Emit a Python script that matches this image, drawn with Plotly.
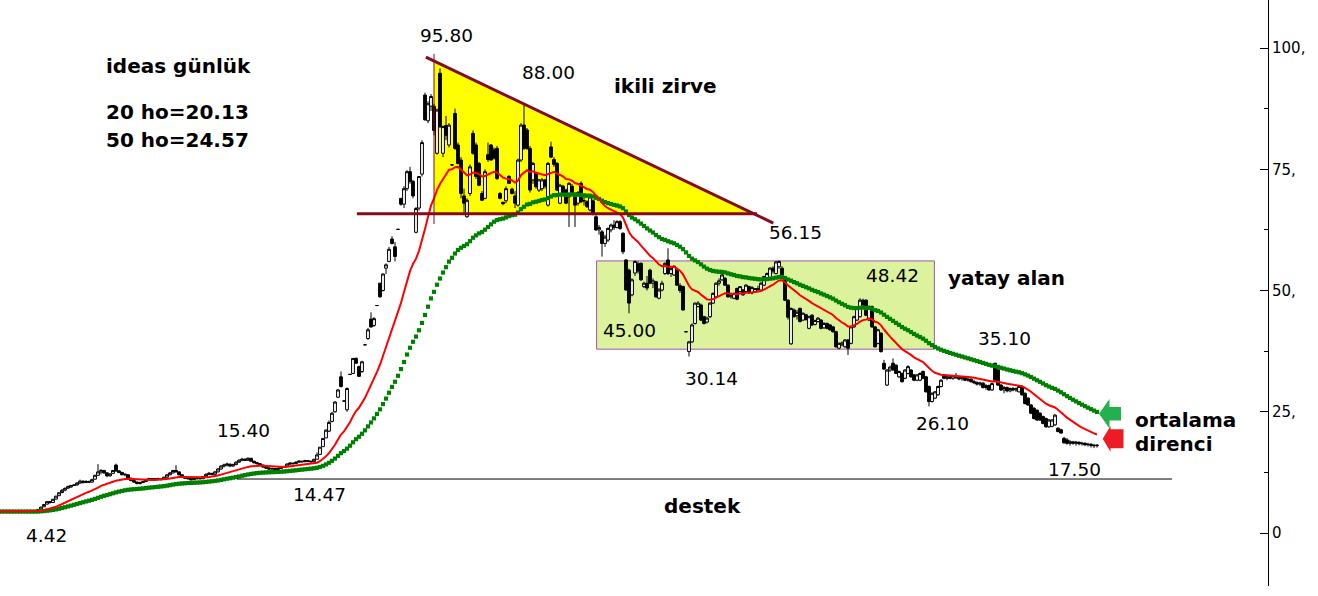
import plotly.graph_objects as go

# ---------------- data ----------------
ipo_price = 4.42
pre_bars = 13          # flat pre-listing part of the averages on the left

opens = [
 4.42, 4.90, 5.40, 5.95, 6.50, 6.30, 7.00, 7.70, 8.35, 8.85,
 9.25, 9.5, 9.8, 9.9, 10.3, 10.7, 10.4, 10.6, 10.5, 11.1,
 11.9, 12.6, 12.9, 12.4, 11.8, 12.3, 14.0, 12.8, 12.5, 12.0,
 12.0, 11.3, 10.8, 10.5, 10.2, 10.4, 10.6, 11.0, 11.2, 10.9,
 11.2, 11.0, 11.1, 11.5, 12.0, 12.4, 12.9, 12.6, 12.0, 11.6,
 11.3, 11.2, 11.0, 11.2, 11.3, 11.2, 11.6, 12.1, 12.3, 12.1,
 12.6, 13.2, 13.8, 14.0, 14.2, 13.8, 14.1, 14.6, 15.0, 15.2,
 15.0, 15.4, 14.8, 14.5, 14.3, 14.0, 13.6, 13.4, 13.2, 13.3,
 13.1, 13.3, 13.5, 13.7, 14.2, 14.4, 14.3, 14.6, 14.8, 14.7,
 14.9, 14.8, 14.7, 15.2, 16.2, 17.8, 19.6, 21.0, 23.0, 25.0,
 28.0, 32.2, 27.2, 25.4, 32.7, 32.9, 36.0, 34.3, 33.3, 38.8,
 40.1, 44.1, 42.8, 46.9, 51.5, 50.0, 54.6, 56.0, 60.6, 59.0,
 62.6, 69.0, 67.8, 71.0, 74.5, 72.5, 62.0, 67.0, 74.0, 90.3,
 85.0, 88.0, 88.0, 78.3, 94.8, 78.3, 84.0, 80.0, 75.9, 86.5,
 80.0, 76.9, 69.5, 65.2, 70.0, 82.4, 80.0, 76.2, 70.0, 69.0,
 78.0, 80.0, 79.0, 79.3, 70.0, 68.2, 68.5, 73.5, 70.9, 69.5,
 67.6, 76.9, 84.1, 83.1, 79.3, 72.8, 74.1, 70.7, 71.0, 72.8,
 67.6, 79.6, 77.0, 76.2, 68.0, 71.5, 70.7, 69.3, 71.5, 70.0,
 68.0, 72.1, 68.5, 68.3, 66.6, 68.5, 65.2, 62.5, 62.1, 59.7,
 60.4, 62.5, 63.5, 63.0, 64.2, 61.8, 56.3, 54.2, 49.1, 53.6,
 55.5, 55.6, 50.8, 51.5, 54.2, 51.5, 51.8, 48.4, 50.1, 53.5,
 56.3, 53.5, 53.2, 54.2, 51.0, 50.8, 41.5, 37.4, 39.4, 43.2,
 46.7, 47.0, 44.6, 43.5, 44.6, 47.4, 48.7, 51.5, 52.2, 52.5,
 51.1, 48.7, 48.4, 50.4, 49.8, 50.1, 49.8, 50.8, 49.5, 49.8,
 50.4, 50.1, 51.1, 52.2, 52.5, 54.6, 53.5, 54.9, 54.6, 52.5,
 48.0, 39.0, 46.0, 44.8, 46.3, 43.9, 45.0, 42.2, 44.9, 43.0,
 43.6, 43.9, 42.3, 43.2, 42.9, 42.5, 41.5, 38.1, 38.8, 38.4,
 39.8, 39.1, 42.5, 43.9, 44.6, 48.0, 48.0, 43.9, 46.7, 42.5,
 39.1, 41.2, 35.0, 30.5, 33.6, 35.0, 34.6, 32.2, 32.9, 31.9,
 32.9, 33.6, 32.6, 31.5, 31.5, 33.3, 32.2, 30.2, 27.1, 27.8,
 28.5, 30.2, 32.6, 31.9, 32.2, 31.9, 32.4, 32.0, 31.8, 32.1,
 31.5, 31.7, 31.2, 31.0, 30.7, 30.9, 30.0, 30.4, 29.5, 35.0,
 33.6, 30.5, 29.5, 30.0, 29.3, 29.8, 29.5, 29.1, 30.2, 28.8,
 27.8, 26.4, 25.7, 25.3, 24.7, 24.0, 23.6, 21.9, 22.0, 22.3,
 21.6, 21.3, 19.5, 19.2, 18.5, 18.8, 18.5, 18.7, 18.4, 18.5,
 18.2, 18.3, 18.1, 18.0]

highs = [
 4.86, 5.35, 5.88, 6.47, 6.60, 7.05, 7.65, 8.35, 9.10, 9.40,
 9.80, 9.9, 10.0, 10.5, 11.0, 10.8, 10.9, 10.8, 11.2, 12.0,
 14.2, 13.2, 13.0, 12.5, 12.3, 13.0, 14.3, 13.0, 12.6, 12.3,
 12.1, 11.4, 11.0, 10.6, 10.6, 10.8, 11.2, 11.4, 11.3, 11.3,
 11.4, 11.2, 11.6, 12.2, 12.6, 13.0, 14.0, 12.7, 12.1, 11.7,
 11.5, 11.3, 11.3, 11.5, 11.4, 11.7, 12.3, 12.6, 12.4, 12.8,
 13.4, 14.0, 14.3, 14.5, 14.3, 14.3, 14.8, 15.2, 15.5, 15.4,
 15.6, 15.5, 14.9, 14.7, 14.4, 14.1, 13.8, 13.6, 13.5, 13.4,
 13.5, 13.7, 13.9, 14.4, 14.6, 14.5, 14.8, 15.0, 14.9, 15.1,
 15.0, 14.9, 15.3, 16.6, 17.7, 19.5, 21.4, 23.2, 25.0, 27.2,
 29.7, 33.3, 27.3, 30.0, 32.8, 36.0, 36.2, 34.5, 35.5, 38.9,
 42.3, 45.5, 44.5, 47.0, 51.6, 53.5, 55.6, 59.0, 61.2, 60.0,
 62.7, 69.0, 71.5, 74.8, 75.5, 72.8, 67.2, 73.6, 81.0, 90.8,
 89.0, 90.5, 88.5, 87.5, 95.8, 84.0, 86.0, 84.5, 76.0, 87.5,
 80.5, 77.5, 71.0, 69.0, 76.0, 83.0, 80.5, 76.5, 70.5, 75.0,
 80.5, 80.2, 79.5, 79.8, 70.3, 68.2, 71.5, 73.8, 71.2, 70.5,
 77.2, 84.5, 88.2, 83.5, 79.8, 76.5, 74.5, 73.0, 73.2, 73.0,
 76.5, 80.7, 77.5, 76.5, 72.0, 71.8, 71.0, 72.3, 72.0, 70.3,
 70.5, 72.5, 69.5, 68.6, 69.5, 68.8, 65.5, 63.5, 62.5, 61.5,
 63.0, 63.8, 64.5, 64.5, 64.5, 62.0, 56.5, 54.5, 52.5, 56.2,
 56.0, 55.8, 51.8, 53.0, 54.5, 52.5, 52.0, 50.5, 52.0, 55.8,
 58.7, 55.0, 55.2, 54.5, 51.5, 51.0, 41.6, 39.6, 43.2, 47.5,
 47.8, 47.3, 44.8, 44.6, 47.6, 49.6, 51.7, 52.5, 53.5, 52.8,
 51.3, 49.5, 49.6, 50.6, 50.9, 50.3, 51.3, 51.0, 50.9, 50.5,
 51.0, 51.7, 53.0, 53.7, 54.8, 55.0, 56.0, 56.2, 55.0, 52.8,
 48.2, 46.5, 46.3, 46.0, 46.5, 45.5, 45.2, 44.8, 45.1, 44.0,
 44.5, 44.1, 43.5, 43.4, 43.1, 42.7, 41.7, 39.3, 39.5, 40.0,
 40.0, 42.7, 44.8, 46.5, 48.4, 48.3, 48.2, 46.9, 46.9, 42.7,
 42.1, 41.4, 35.7, 33.8, 34.5, 36.0, 34.8, 33.5, 33.1, 33.8,
 34.6, 33.8, 32.8, 32.8, 33.1, 33.5, 32.4, 30.4, 29.0, 29.3,
 30.4, 31.7, 32.8, 32.4, 32.6, 32.5, 33.0, 32.4, 32.3, 32.3,
 32.0, 31.9, 31.6, 31.3, 31.2, 31.1, 30.7, 30.6, 31.0, 35.1,
 33.8, 30.7, 30.3, 30.2, 30.0, 30.1, 30.0, 30.4, 30.4, 29.0,
 28.0, 26.6, 26.0, 25.5, 24.9, 24.2, 23.8, 23.5, 23.5, 24.5,
 21.8, 21.5, 19.8, 19.6, 19.2, 19.0, 19.0, 18.9, 18.8, 18.7,
 18.6, 18.5, 18.4, 18.3]

lows = [
 4.42, 4.90, 5.40, 5.90, 6.10, 6.25, 6.90, 7.60, 8.20, 8.60,
 9.10, 9.3, 9.7, 9.8, 10.1, 10.2, 10.3, 10.3, 10.4, 11.0,
 11.8, 12.1, 12.2, 11.5, 11.6, 12.2, 12.6, 12.3, 11.9, 11.7,
 11.2, 10.7, 10.3, 10.0, 10.0, 10.3, 10.5, 10.8, 10.8, 10.8,
 10.9, 10.8, 11.0, 11.4, 11.9, 12.3, 12.5, 11.9, 11.4, 11.1,
 11.0, 10.8, 10.9, 11.0, 11.0, 11.1, 11.5, 11.9, 11.9, 12.0,
 12.5, 13.0, 13.5, 13.7, 13.6, 13.7, 14.0, 14.5, 14.8, 14.9,
 14.9, 14.7, 14.3, 14.1, 13.8, 13.4, 13.2, 13.0, 13.0, 12.9,
 13.0, 13.2, 13.4, 13.6, 14.0, 14.1, 14.2, 14.5, 14.5, 14.6,
 14.6, 14.5, 14.6, 15.2, 16.2, 17.8, 19.6, 20.8, 22.8, 24.8,
 27.8, 30.0, 27.2, 25.0, 32.7, 32.8, 35.0, 32.2, 33.0, 38.8,
 39.8, 42.3, 42.5, 46.9, 48.5, 49.8, 53.4, 55.8, 59.5, 56.0,
 62.6, 67.5, 67.0, 70.5, 72.0, 69.0, 61.8, 66.5, 73.5, 85.0,
 84.5, 87.0, 82.0, 78.0, 83.5, 77.5, 81.0, 79.5, 75.8, 79.0,
 76.0, 69.0, 66.0, 65.0, 69.5, 78.0, 73.0, 71.5, 68.5, 68.8,
 76.5, 76.8, 77.0, 72.8, 68.8, 67.6, 68.0, 72.0, 69.8, 67.0,
 67.3, 76.5, 79.0, 79.0, 70.2, 72.0, 71.0, 70.3, 70.5, 71.0,
 67.3, 77.3, 75.5, 70.5, 67.8, 69.5, 67.8, 63.1, 69.5, 63.1,
 67.5, 68.0, 67.5, 67.0, 66.3, 65.5, 62.3, 61.5, 57.0, 59.0,
 60.0, 62.0, 62.5, 62.8, 62.5, 57.5, 50.0, 45.3, 48.8, 53.0,
 53.5, 52.0, 50.5, 50.0, 51.3, 50.5, 48.5, 48.2, 49.8, 53.2,
 53.2, 52.8, 53.0, 51.0, 49.5, 45.8, 41.4, 36.4, 39.2, 43.0,
 46.5, 43.7, 43.0, 43.2, 44.3, 47.2, 48.5, 51.0, 52.0, 51.0,
 48.5, 48.3, 48.2, 48.0, 49.6, 48.9, 49.6, 49.3, 49.2, 49.6,
 49.8, 50.0, 50.9, 52.0, 52.3, 53.5, 53.3, 54.5, 52.3, 47.8,
 44.0, 38.8, 44.4, 44.0, 43.4, 43.7, 43.8, 42.0, 42.7, 42.8,
 43.4, 42.0, 42.1, 42.0, 41.7, 41.3, 38.2, 37.9, 38.5, 38.2,
 36.7, 38.9, 42.3, 43.7, 44.4, 46.5, 44.7, 43.7, 42.3, 38.2,
 38.9, 37.2, 33.6, 30.3, 33.2, 33.5, 32.8, 32.0, 31.0, 31.7,
 32.7, 32.0, 31.3, 31.3, 31.3, 31.7, 29.0, 26.1, 26.9, 27.6,
 28.3, 30.0, 31.7, 31.5, 31.7, 31.6, 31.8, 31.5, 31.4, 31.3,
 31.2, 31.0, 30.7, 30.4, 30.3, 29.8, 29.5, 29.3, 29.3, 31.3,
 30.3, 29.3, 28.8, 29.0, 29.0, 29.2, 29.1, 29.0, 28.3, 26.5,
 26.2, 24.5, 23.4, 23.1, 23.1, 22.4, 21.7, 21.7, 21.8, 22.1,
 20.8, 20.5, 18.4, 18.2, 18.0, 18.2, 18.0, 18.1, 18.0, 17.9,
 17.8, 17.6, 17.5, 17.6]

closes = [
 4.86, 5.35, 5.88, 6.47, 6.25, 6.95, 7.60, 8.30, 8.80, 9.20,
 9.55, 9.8, 9.9, 10.3, 10.7, 10.4, 10.6, 10.5, 11.0, 11.9,
 12.6, 12.9, 12.4, 11.8, 12.2, 12.9, 12.8, 12.5, 12.0, 12.1,
 11.3, 10.8, 10.5, 10.2, 10.4, 10.6, 11.0, 11.2, 10.9, 11.2,
 11.0, 11.1, 11.5, 12.0, 12.4, 12.9, 12.6, 12.0, 11.6, 11.3,
 11.2, 11.0, 11.2, 11.3, 11.2, 11.6, 12.1, 12.3, 12.1, 12.6,
 13.2, 13.8, 14.0, 14.2, 13.8, 14.1, 14.6, 15.0, 15.2, 15.0,
 15.4, 14.8, 14.5, 14.3, 14.0, 13.6, 13.4, 13.2, 13.3, 13.1,
 13.3, 13.5, 13.7, 14.2, 14.4, 14.3, 14.6, 14.8, 14.7, 14.9,
 14.8, 14.7, 15.2, 16.1, 17.7, 19.5, 21.2, 22.8, 24.7, 27.0,
 29.5, 30.2, 27.2, 29.8, 32.7, 36.0, 35.0, 32.3, 35.3, 38.8,
 41.9, 42.5, 44.2, 46.9, 48.7, 53.4, 55.3, 58.5, 59.7, 57.0,
 62.6, 67.8, 71.0, 74.5, 72.5, 69.5, 66.9, 73.5, 80.5, 85.2,
 88.5, 90.0, 83.0, 87.2, 83.8, 83.8, 82.0, 84.1, 75.9, 79.3,
 76.2, 70.0, 68.0, 68.6, 75.5, 78.3, 73.5, 71.7, 68.6, 74.5,
 77.0, 76.9, 77.3, 73.1, 69.0, 67.9, 71.0, 72.1, 70.0, 68.0,
 76.9, 84.1, 79.3, 79.3, 70.7, 76.2, 71.4, 72.8, 72.8, 71.5,
 76.2, 77.5, 76.0, 70.7, 71.7, 70.0, 68.0, 72.1, 70.0, 67.6,
 70.2, 68.3, 68.5, 67.3, 69.3, 66.0, 62.5, 63.0, 59.7, 61.0,
 62.8, 63.5, 63.0, 64.2, 62.8, 58.0, 50.1, 47.4, 52.2, 56.0,
 54.0, 52.2, 51.5, 50.5, 51.5, 52.0, 48.7, 50.1, 51.5, 55.6,
 53.5, 54.5, 55.0, 51.1, 50.0, 46.0, 41.5, 39.4, 42.9, 47.4,
 47.4, 43.9, 43.2, 44.3, 47.4, 49.4, 51.5, 52.0, 53.2, 51.1,
 48.7, 49.0, 49.4, 48.2, 50.8, 49.1, 51.1, 49.5, 50.6, 50.4,
 50.2, 51.5, 52.9, 53.5, 54.6, 54.0, 55.9, 56.0, 52.5, 48.0,
 44.5, 46.3, 44.6, 45.5, 43.6, 45.3, 44.0, 44.6, 42.9, 43.8,
 44.3, 42.2, 43.2, 42.2, 41.9, 41.5, 38.4, 39.1, 39.2, 39.8,
 38.1, 42.5, 44.6, 46.3, 48.0, 47.0, 44.9, 46.7, 42.5, 38.4,
 41.9, 37.4, 33.8, 33.6, 34.2, 33.6, 32.9, 33.3, 31.2, 33.6,
 34.3, 32.2, 31.5, 32.6, 32.9, 31.9, 29.1, 27.1, 28.8, 29.1,
 30.2, 31.5, 31.9, 32.2, 31.9, 32.4, 32.0, 31.8, 32.1, 31.5,
 31.7, 31.2, 31.0, 30.7, 30.9, 30.0, 30.4, 29.5, 30.8, 31.5,
 30.5, 29.5, 30.0, 29.3, 29.8, 29.5, 29.7, 30.2, 28.5, 26.7,
 26.4, 24.7, 23.6, 23.3, 23.3, 22.6, 21.9, 23.3, 23.3, 24.3,
 20.9, 20.6, 18.6, 18.5, 18.8, 18.5, 18.7, 18.4, 18.5, 18.2,
 18.3, 18.1, 18.0, 18.1]

ma_fast_period = 20
ma_slow_period = 50

y_tickvals = [0, 25, 50, 75, 100]
y_ticktext = ["0", "25,", "50,", "75,", "100,"]
y_minorvals = [12.5, 37.5, 62.5, 87.5]

# ---------------- derived ----------------
n = min(len(opens), len(highs), len(lows), len(closes))
opens, highs, lows, closes = opens[:n], highs[:n], lows[:n], closes[:n]
bars = list(range(n))


def ema(values, period):
    a = 2.0 / (period + 1)
    out, e = [], values[0]
    for v in values:
        e = e + a * (v - e)
        out.append(e)
    return out


ma_input = [ipo_price] * pre_bars + closes
ma_x = list(range(-pre_bars, n))
ma_fast = ema(ma_input, ma_fast_period)
ma_slow = ema(ma_input, ma_slow_period)

# ---------------- figure ----------------
W, H = 1318, 596
ML, MR, MT, MB = 0, 50, 0, 10
PW, PH = W - ML - MR, H - MT - MB
FONT = "DejaVu Sans"


def px(x, y):
    return x / PW, 1 - y / PH


fig = go.Figure()

fig.add_trace(go.Scatter(
    x=ma_x, y=ma_slow, mode="markers",
    marker=dict(symbol="square", size=4.2, color="#008000", line=dict(width=0)),
    hoverinfo="skip"))
fig.add_trace(go.Scatter(
    x=ma_x, y=ma_fast, mode="lines",
    line=dict(color="#ff0000", width=2), hoverinfo="skip"))
fig.add_trace(go.Candlestick(
    x=bars, open=opens, high=highs, low=lows, close=closes,
    increasing=dict(line=dict(color="black", width=1), fillcolor="white"),
    decreasing=dict(line=dict(color="black", width=1), fillcolor="black"),
    whiskerwidth=0))

maroon = "#840a1c"
shapes = [
    # yellow triangle (pattern fill)
    dict(type="path", xref="x", yref="y", layer="below",
         path="M 132,97.3 L 132,65.8 L 239.8,65.8 Z",
         fillcolor="#ffff00", line=dict(width=0)),
    # horizontal range box
    dict(type="rect", xref="x", yref="y", layer="below",
         x0=186.2, x1=298.8, y0=37.9, y1=56.1,
         fillcolor="#dcf29c", line=dict(color="#a455b4", width=1)),
    # triangle lines
    dict(type="line", xref="x", yref="y", x0=129.3, y0=98.1, x1=245.1, y1=63.9,
         line=dict(color=maroon, width=3)),
    dict(type="line", xref="x", yref="y", x0=106.3, y0=65.8, x1=239.7, y1=65.8,
         line=dict(color=maroon, width=3)),
    dict(type="line", xref="x", yref="y", x0=132, y0=98.8, x1=132, y1=63.7,
         line=dict(color=maroon, width=1)),
    # support line
    dict(type="line", xref="x", yref="y", x0=66.3, y0=11.13, x1=378, y1=11.13,
         line=dict(color="black", width=1)),
]


def arrow_path(pts):
    p = [px(x, y) for x, y in pts]
    return "M " + " L ".join(f"{a:.5f},{b:.5f}" for a, b in p) + " Z"


green_arrow = [(1099, 413.7), (1109.5, 399), (1109.5, 407), (1121, 407),
               (1121, 420.5), (1109.5, 420.5), (1109.5, 428.5)]
red_arrow = [(1102.7, 438.8), (1110.5, 426), (1110.5, 429.3), (1123.5, 429.3),
             (1123.5, 448.3), (1110.5, 448.3), (1110.5, 451.7)]
shapes.append(dict(type="path", xref="paper", yref="paper", path=arrow_path(green_arrow),
                   fillcolor="#22b14c", line=dict(width=0)))
shapes.append(dict(type="path", xref="paper", yref="paper", path=arrow_path(red_arrow),
                   fillcolor="#ed1c24", line=dict(width=0)))

labels = [
    # text, x, y, bold, anchor
    ("95.80", 447, 35, False, "center"),
    ("88.00", 548, 72, False, "center"),
    ("ikili zirve", 665, 86, True, "center"),
    ("ideas günlük", 104, 66, True, "left"),
    ("20 ho=20.13", 104, 112, True, "left"),
    ("50 ho=24.57", 104, 140, True, "left"),
    ("56.15", 795, 232, False, "center"),
    ("yatay alan", 1007, 278, True, "center"),
    ("48.42", 892, 275, False, "center"),
    ("45.00", 629, 330, False, "center"),
    ("30.14", 711, 378, False, "center"),
    ("35.10", 1004, 338, False, "center"),
    ("26.10", 942, 423, False, "center"),
    ("17.50", 1074, 469, False, "center"),
    ("15.40", 243, 431, False, "center"),
    ("14.47", 319, 494, False, "center"),
    ("4.42", 46, 535, False, "center"),
    ("destek", 702, 506, True, "center"),
    ("ortalama", 1133, 420, True, "left"),
    ("direnci", 1133, 444, True, "left"),
]
annotations = []
for text, x, y, bold, anchor in labels:
    ax, ay = px(x, y)
    annotations.append(dict(
        text=f"<b>{text}</b>" if bold else text,
        x=ax, y=ay, xref="paper", yref="paper", showarrow=False,
        xanchor=anchor, yanchor="middle",
        font=dict(family=FONT, size=20 if bold else 18.5, color="black")))

fig.update_layout(
    width=W, height=H,
    margin=dict(l=ML, r=MR, t=MT, b=MB, pad=0),
    paper_bgcolor="white", plot_bgcolor="white",
    showlegend=False,
    boxgap=0.05, boxgroupgap=0,
    shapes=shapes, annotations=annotations,
    xaxis=dict(range=[-38 / 3, (PW - 38) / 3], visible=False,
               rangeslider=dict(visible=False), showgrid=False, zeroline=False),
    yaxis=dict(range=[(533 - PH) / 4.85, 533 / 4.85], side="right",
               showline=True, linecolor="black", linewidth=1,
               ticks="inside", ticklen=8, tickcolor="black", tickwidth=1,
               tickvals=y_tickvals, ticktext=y_ticktext,
               tickfont=dict(family=FONT, size=15, color="black"),
               showgrid=False, zeroline=False,
               minor=dict(tickvals=y_minorvals, ticks="inside", ticklen=4,
                          tickcolor="black", showgrid=False)),
)

fig.write_html("out.html",
               config={"displayModeBar": False},
               post_script="document.body.style.margin='0';"
                           "document.body.style.overflow='hidden';")
